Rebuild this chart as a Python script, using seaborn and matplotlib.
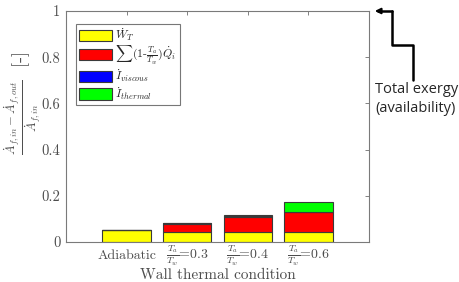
import numpy as np
import pandas as pd
import matplotlib
matplotlib.use("Agg")
import matplotlib.pyplot as plt
from matplotlib.lines import Line2D
import seaborn as sns

# Data
conditions = ["Adiabatic", r"$\frac{T_a}{T_w}$=0.3", r"$\frac{T_a}{T_w}$=0.4", r"$\frac{T_a}{T_w}$=0.6"]
w_turbine = [0.050, 0.044, 0.045, 0.042]
q_heat    = [0.000, 0.035, 0.065, 0.087]
i_viscous = [0.000, 0.002, 0.001, 0.003]
i_thermal = [0.000, 0.000, 0.006, 0.043]

layer_names  = [r"$\dot{W}_T$",
                r"$\sum(1$-$\frac{T_a}{T_w})\dot{Q}_i$",
                r"$\dot{I}_{viscous}$",
                r"$\dot{I}_{thermal}$"]
layer_colors = ["#ffff00", "#ff0000", "#0000ff", "#00ff00"]

sns.set_style("white")
plt.rcParams["font.family"] = "serif"
plt.rcParams["font.serif"] = ["cmr10", "DejaVu Serif"]
plt.rcParams["mathtext.fontset"] = "cm"
plt.rcParams["axes.formatter.use_mathtext"] = True

txt_col = "#4d4d4d"

fig = plt.figure(figsize=(4.59, 2.82), dpi=100)
ax = fig.add_axes([0.1438, 0.1418, 0.6602, 0.8192])

layers = [w_turbine, q_heat, i_viscous, i_thermal]
bottom = np.zeros(len(conditions))
for vals, name, col in zip(layers, layer_names, layer_colors):
    df = pd.DataFrame({"cond": conditions, "val": vals})
    sns.barplot(data=df, x="cond", y="val", order=conditions, color=col,
                bottom=bottom, width=0.8, edgecolor="#3a3a3a", linewidth=0.8,
                saturation=1, ax=ax, label=name)
    bottom = bottom + np.array(vals)

ax.set_xlim(-1, 4)
ax.set_ylim(0, 1)
ax.set_yticks([0, 0.2, 0.4, 0.6, 0.8, 1])
ax.set_yticklabels(["0", "0.2", "0.4", "0.6", "0.8", "1"])
ax.set_xticks(range(len(conditions)))
ax.set_xticklabels(conditions)
ax.tick_params(direction="in", length=3, width=0.6, colors="#6e6e6e",
               labelcolor=txt_col, labelsize=10.5, top=True, right=True, pad=4)
ax.tick_params(axis="x", labelsize=10, pad=10)
for lab in ax.get_xticklabels():
    lab.set_va("center")
for s in ax.spines.values():
    s.set_color("#7a7a7a")
    s.set_linewidth(0.8)

ax.set_xlabel("Wall thermal condition", fontsize=11, color=txt_col, labelpad=0)
ax.set_ylabel(r"$\frac{\dot{A}_{f,in}-\dot{A}_{f,out}}{\dot{A}_{f,in}}$  [-]",
              fontsize=13, color=txt_col)
ax.yaxis.set_label_coords(-0.075, 0.6)

leg = ax.legend(loc="upper left", bbox_to_anchor=(0.025, 0.955), fontsize=8.5,
                frameon=True, fancybox=False, edgecolor="#555555",
                handlelength=2.8, handleheight=1.15, handletextpad=0.3,
                labelspacing=0.05, borderpad=0.25, borderaxespad=0.2)
leg.get_frame().set_linewidth(0.8)

# annotation on the right: stepped arrow to the top of the axis
px = lambda x: x / 459
py = lambda y: 1 - y / 282
xs = [px(392), px(392), px(413), px(413)]
ys = [py(11), py(45), py(45), py(80)]
fig.add_artist(Line2D(xs, ys, color="black", lw=1.8, transform=fig.transFigure))
fig.add_artist(Line2D([px(378), px(392)], [py(11), py(11)], color="black", lw=1.8,
                      transform=fig.transFigure))
ax.annotate("", xy=(px(372), py(11)), xycoords="figure fraction",
            xytext=(px(384), py(11)), textcoords="figure fraction",
            arrowprops=dict(arrowstyle="-|>", color="black", lw=1.5,
                            mutation_scale=8))
fig.text(px(375), py(99), "Total exergy\n(availability)", fontsize=10.5,
         family="Open Sans", ha="left", va="center", linespacing=1.3)

fig.savefig("out.png", dpi=100)
